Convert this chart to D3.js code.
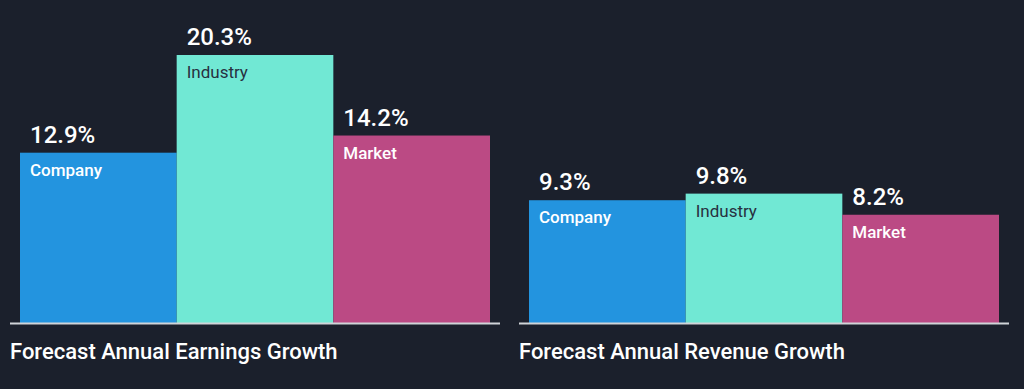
<!DOCTYPE html>
<html lang="en">
<head>
    <meta charset="UTF-8">
    <title>Forecast Growth</title>
    <script src="https://d3js.org/d3.v7.min.js"></script>
    <style>
        body{
            margin: 0;
            background-color: #1b202c;
        }
        #canvas{
            display: block;
            font-family: Roboto, sans-serif;
        }
    </style>
</head>
<body>
<svg id="canvas" width="1024" height="389"></svg>
<script>

    let categories = ["Company", "Industry", "Market"];
    let earnings = [12.9, 20.3, 14.2];
    let revenue = [9.3, 9.8, 8.2];
    let titles = ["Forecast Annual Earnings Growth", "Forecast Annual Revenue Growth"];

    let colors = {Company: "#2394df", Industry: "#71e8d4", Market: "#bb4a84"};
    let labelColors = {Company: "#ffffff", Industry: "#273040", Market: "#ffffff"};

    let svg = d3.select('#canvas');

    let baseline = 323;
    let y = d3.scaleLinear()
        .domain([0, d3.max(earnings.concat(revenue))])
        .range([baseline, 55]);

    function panel(values, title, left){
        let g = svg.append('g').attr("transform", "translate(" + left + ",0)");
        let x = d3.scaleBand().domain(categories).range([10, 480]).padding(0);

        let bars = g.selectAll('g.bar')
            .data(categories.map(function (c, i){ return {cat: c, val: values[i]}; }))
            .enter()
            .append('g')
            .attr("class", "bar");

        bars.append('rect')
            .attr("x", function (d){ return x(d.cat); })
            .attr("y", function (d){ return y(d.val); })
            .attr("width", x.bandwidth())
            .attr("height", function (d){ return baseline - y(d.val); })
            .attr("fill", function (d){ return colors[d.cat]; });

        bars.append('text')
            .attr("x", function (d){ return x(d.cat) + 10; })
            .attr("y", function (d){ return y(d.val) - 10; })
            .attr("fill", "#ffffff")
            .attr("font-size", "24px")
            .attr("font-weight", 500)
            .text(function (d){ return d.val.toFixed(1) + "%"; });

        bars.append('text')
            .attr("x", function (d){ return x(d.cat) + 10; })
            .attr("y", function (d){ return y(d.val) + 23; })
            .attr("fill", function (d){ return labelColors[d.cat]; })
            .attr("font-size", "17px")
            .attr("font-weight", function (d){ return d.cat === "Industry" ? 400 : 500; })
            .text(function (d){ return d.cat; });

        g.append('line')
            .attr("x1", 0).attr("x2", 490)
            .attr("y1", baseline + 0.5).attr("y2", baseline + 0.5)
            .attr("stroke", "#d0d3d8")
            .attr("stroke-width", 2);

        g.append('text')
            .attr("x", 0)
            .attr("y", 359)
            .attr("fill", "#ffffff")
            .attr("font-size", "22px")
            .attr("font-weight", 500)
            .text(title);
    }

    panel(earnings, titles[0], 10);
    panel(revenue, titles[1], 519);

</script>
</body>
</html>
